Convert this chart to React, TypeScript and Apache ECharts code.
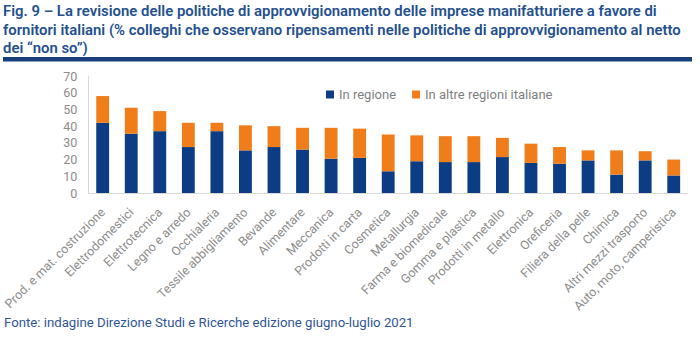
import React, { useEffect, useRef } from "react";
import * as echarts from "echarts";

const categories = [
  "Prod. e mat. costruzione",
  "Elettrodomestici",
  "Elettrotecnica",
  "Legno e arredo",
  "Occhialeria",
  "Tessile abbigliamento",
  "Bevande",
  "Alimentare",
  "Meccanica",
  "Prodotti in carta",
  "Cosmetica",
  "Metallurgia",
  "Farma e biomedicale",
  "Gomma e plastica",
  "Prodotti in metallo",
  "Elettronica",
  "Oreficeria",
  "Filiera della pelle",
  "Chimica",
  "Altri mezzi trasporto",
  "Auto, moto, camperistica",
];

// totals
const totals = [58, 51, 49, 42, 42, 40.5, 40, 39, 39, 38.5, 35, 34.5, 34, 34, 33, 29.5, 27.5, 25.5, 25.5, 25, 20];
const inRegione = [42, 35.5, 37, 27.5, 37, 25.5, 27.5, 26, 20.5, 21, 13, 19, 18.5, 18.5, 21.5, 18, 17.5, 19.5, 11, 19.5, 10.5];
const altreRegioni = totals.map((t, i) => +(t - inRegione[i]).toFixed(1));

const seriesNames = ["In regione", "In altre regioni italiane"];
const yTicks = { min: 0, max: 70, interval: 10 };

const titleText =
  "Fig. 9 – La revisione delle politiche di approvvigionamento delle imprese manifatturiere a favore di\nfornitori italiani (% colleghi che osservano ripensamenti nelle politiche di approvvigionamento al netto\ndei “non so”)";
const sourceText = "Fonte: indagine Direzione Studi e Ricerche edizione giugno-luglio 2021";

const FONT = "Roboto, 'DejaVu Sans', sans-serif";

export default function App() {
  const ref = useRef<HTMLDivElement>(null);
  useEffect(() => {
    if (!ref.current) return;
    const chart = echarts.init(ref.current, null, { renderer: "svg" });
    chart.setOption({
      animation: false,
      backgroundColor: "#ffffff",
      textStyle: { fontFamily: FONT },
      title: {
        text: titleText,
        left: 3,
        top: 2,
        padding: 0,
        textStyle: {
          fontFamily: FONT,
          fontSize: 14.9,
          fontWeight: 600,
          color: "#24508f",
          lineHeight: 18.5,
        },
      },
      graphic: [
        {
          type: "rect",
          shape: { x: 3, y: 57, width: 689, height: 4.5 },
          style: { fill: "#173f7c" },
        },
        {
          type: "text",
          left: 4,
          top: 316,
          style: {
            text: sourceText,
            fontFamily: FONT,
            fontSize: 13.2,
            fill: "#2f5597",
          },
        },
      ],
      legend: {
        data: seriesNames,
        left: 326,
        top: 88,
        padding: 0,
        itemWidth: 8,
        itemHeight: 8,
        itemGap: 16,
        icon: "rect",
        textStyle: { fontFamily: FONT, fontSize: 13, color: "#7f7f7f" },
      },
      grid: { left: 86, right: 12, top: 76, bottom: 164 },
      xAxis: {
        type: "category",
        data: categories,
        axisLine: { lineStyle: { color: "#d9d9d9" } },
        axisTick: { show: false },
        axisLabel: {
          rotate: 45,
          interval: 0,
          margin: 17,
          fontFamily: FONT,
          fontSize: 12.5,
          color: "#8c8c8c",
        },
      },
      yAxis: {
        type: "value",
        min: yTicks.min,
        max: yTicks.max,
        interval: yTicks.interval,
        axisLine: { show: true, lineStyle: { color: "#d9d9d9" } },
        axisTick: { show: false },
        splitLine: { show: false },
        axisLabel: { fontFamily: FONT, fontSize: 12.5, color: "#8c8c8c", margin: 11 },
      },
      series: [
        {
          name: seriesNames[0],
          type: "bar",
          stack: "s",
          data: inRegione,
          barWidth: "45%",
          itemStyle: { color: "#0b3c84" },
        },
        {
          name: seriesNames[1],
          type: "bar",
          stack: "s",
          data: altreRegioni,
          barWidth: "45%",
          itemStyle: { color: "#f07d1a" },
        },
      ],
    });
    return () => chart.dispose();
  }, []);
  return (
    <div
      ref={ref}
      style={{ position: "fixed", left: 0, top: 0, width: 700, height: 357 }}
    />
  );
}
